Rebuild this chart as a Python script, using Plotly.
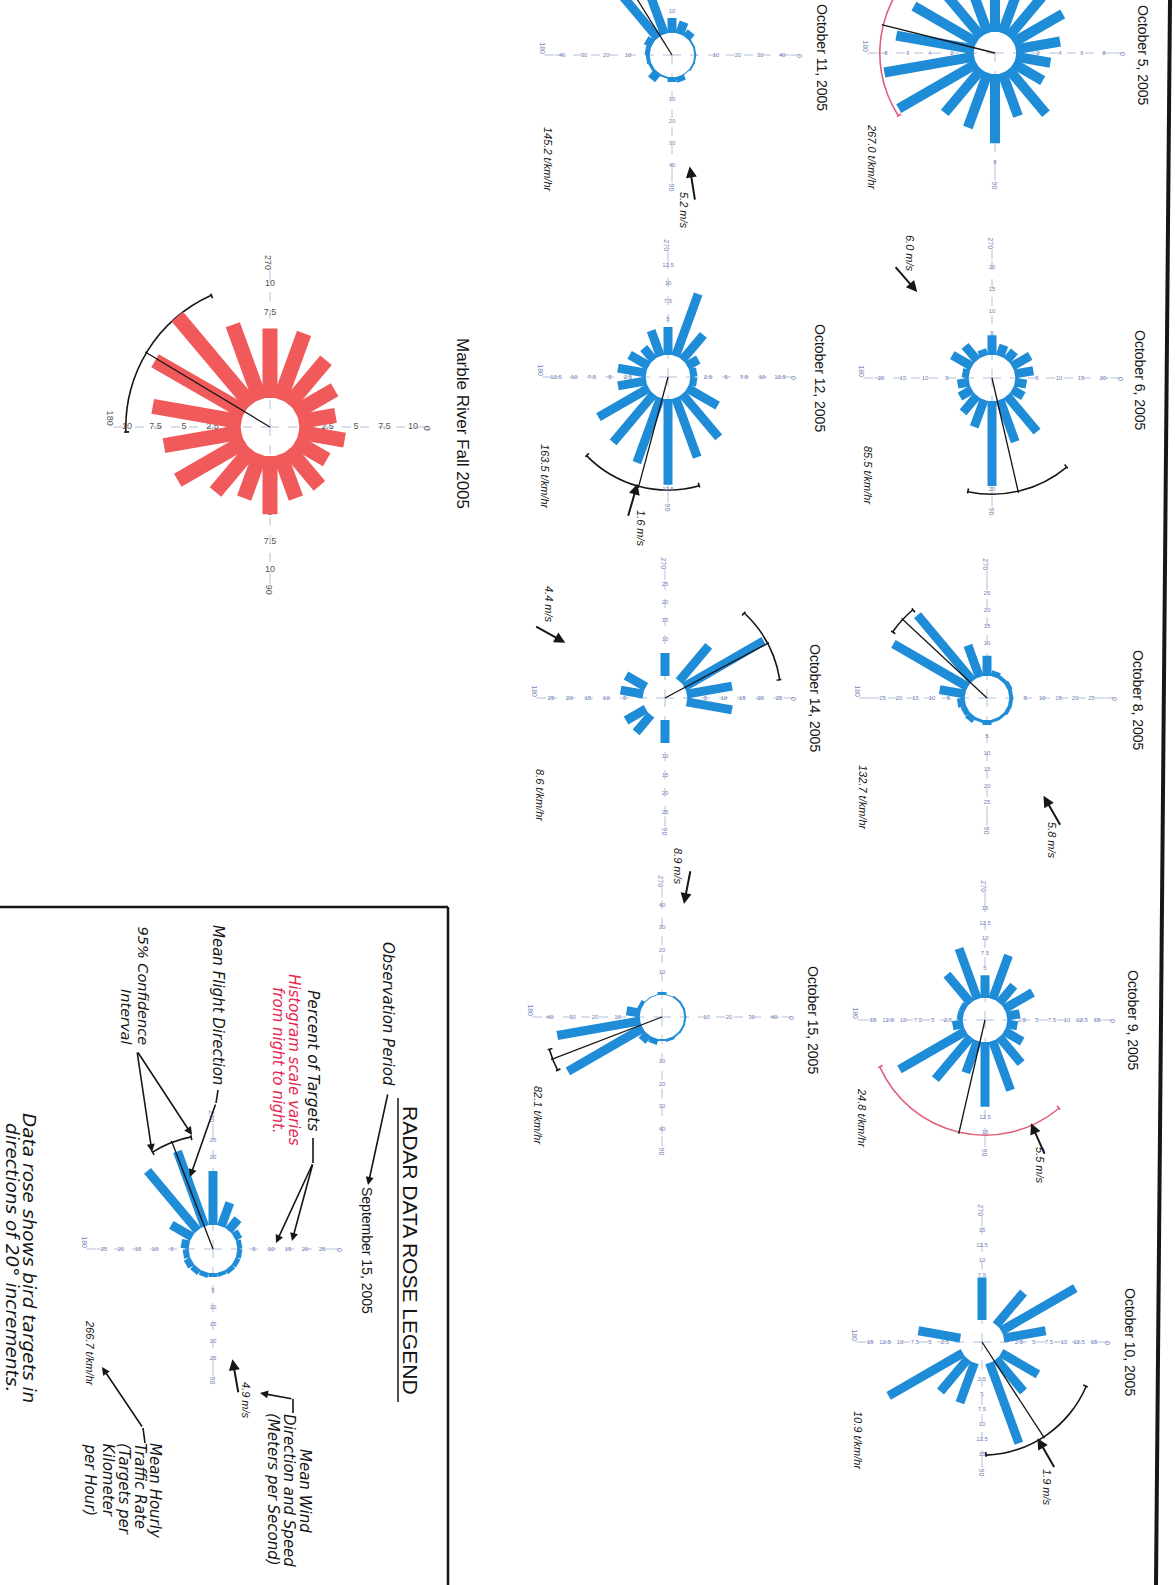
import math
import plotly.graph_objects as go

# Sheet size in pixels; the scanned sheet is cut off along its top edge,
# so the figure is drawn taller and shifted up by TOP_CUT.
W, VIEW_H, TOP_CUT = 1175, 1585, 90
H = VIEW_H + TOP_CUT

# ---------------------------------------------------------------- data
DIRECTIONS = [10, 30, 50, 70, 90, 110, 130, 150, 170, 190, 210, 230, 250, 270, 290, 310, 330, 350]

ROSE_NAMES = ["October 5, 2005", "October 6, 2005", "October 8, 2005", "October 9, 2005",
              "October 10, 2005", "October 11, 2005", "October 12, 2005", "October 14, 2005",
              "October 15, 2005", "Marble River Fall 2005", "September 15, 2005"]

# percent of targets per 20-degree direction bin
PCT_OCT05 = [3.2, 3.1, 5.3, 4.2, 6.3, 5.3, 5.2, 8.2, 8.3, 7.2, 6.6, 6.3, 6.0, 6.8, 5.6, 5.3, 5.2, 4.1]
PCT_OCT06 = [2.7, 3.0, 10.7, 10.2, 19.3, 6.6, 5.0, 3.2, 2.7, 1.6, 5.2, 4.3, 1.6, 4.5, 2.7, 2.7, 4.8, 4.3]
PCT_OCT08 = [1.2, 1.2, 0.9, 0.9, 1.5, 0.9, 2.1, 1.8, 2.4, 7.9, 26.1, 26.1, 10.3, 6.1, 1.8, 1.2, 1.5, 1.2]
PCT_OCT09 = [1.8, 3.5, 5.7, 8.8, 10.8, 5.7, 9.2, 12.8, 1.8, 1.0, 1.0, 6.2, 9.0, 3.8, 7.8, 3.8, 5.5, 2.2]
PCT_OCT10 = [0, 7.1, 7.1, 14.3, 0, 7.1, 7.1, 14.3, 0, 7.1, 0, 0, 0, 7.1, 0, 7.1, 14.3, 7.1]
PCT_OCT11 = [0.9, 0.9, 0.5, 2.7, 2.3, 0.9, 4.5, 1.4, 1.8, 2.3, 3.6, 32.0, 27.2, 6.8, 5.9, 3.6, 0.9, 0.9]
PCT_OCT12 = [1.0, 4.9, 7.9, 8.8, 11.9, 9.6, 8.8, 8.1, 4.0, 4.0, 3.1, 2.2, 3.8, 3.9, 9.2, 4.6, 1.8, 1.0]
PCT_OCT14 = [12.5, 0, 0, 0, 6.25, 0, 6.25, 6.25, 0, 6.25, 6.25, 0, 0, 6.25, 0, 12.5, 25.0, 12.5]
PCT_OCT15 = [0.9, 0.9, 0.9, 1.3, 0.9, 2.7, 4.0, 38.5, 37.5, 6.2, 1.8, 0.4, 0.4, 1.3, 0.4, 0.9, 0.9, 0.9]
PCT_SEASON = [4.1, 3.2, 4.2, 4.1, 5.1, 4.1, 4.9, 6.8, 6.9, 7.9, 9.1, 10.1, 7.0, 6.1, 6.2, 5.1, 4.0, 3.3]
PCT_SEP15 = [1.5, 1.5, 1.5, 1.2, 1.2, 1.5, 1.8, 2.1, 1.8, 2.4, 7.1, 22.9, 23.5, 15.9, 7.4, 4.4, 2.1, 1.5]

PCT_BY_ROSE = [PCT_OCT05, PCT_OCT06, PCT_OCT08, PCT_OCT09, PCT_OCT10, PCT_OCT11,
               PCT_OCT12, PCT_OCT14, PCT_OCT15, PCT_SEASON, PCT_SEP15]

MEAN_DIR = [194, 77, 223, 103, 57, 238, 105, 332, 159, 211, 249]
CI_LOW = [147, 50, 215, 50, 23, 232, 74, 313, 153, 178, 238]
CI_HIGH = [241, 102, 230, 156, 88, 244, 136, 351, 164, 246, 259]

TRAFFIC_RATE = [267.0, 85.5, 132.7, 24.8, 10.9, 145.2, 163.5, 8.6, 82.1, None, 266.7]
WIND_SPEED = [None, 6.0, 5.8, 5.5, 1.9, 5.2, 1.6, 4.4, 8.9, None, 4.9]
WIND_FROM = [None, 229, 60, 66, 60, 81, 106, 209, 281, None, 80]

AXIS_ANGLES = [0, 90, 180, 270]
AXIS_NAMES = ["0", "90", "180", "270"]
RADIAL_TICKS = [[2, 4, 6, 8], [5, 10, 15, 20], [5, 10, 15, 20, 25], [2.5, 5, 7.5, 10, 12.5, 15],
                [2.5, 5, 7.5, 10, 12.5, 15], [10, 20, 30, 40], [2.5, 5, 7.5, 10, 12.5],
                [5, 10, 15, 20, 25], [10, 20, 30, 40], [2.5, 5, 7.5, 10], [5, 10, 15, 20, 25]]

# ---------------------------------------------------------------- styling
BLUE = "#1e8cd7"
RED_BAR = "#f05a5a"
CI_RED = "#e0607a"
INK = "#161616"
TICK_BLUE = "#7484b8"
AXIS_GREY = "#b4bedb"
SANS = "Liberation Sans, Arial, sans-serif"
CAD = "DejaVu Sans, sans-serif"

# placement on the sheet (pixels): centre, outer circle, hole, px per percent
FRAMES = [
    dict(cx=995, cy=53, rc=117, rh=21, k=11.0, bw=10, color=BLUE, ci=CI_RED,
         title_at=(1143, 55), tsize=14, rate_at=(872, 157), wind_at=None),
    dict(cx=992, cy=378, rc=118, rh=23, k=4.4, bw=9, color=BLUE, ci=INK,
         title_at=(1140, 380), tsize=14, rate_at=(868, 475), wind_at=(910, 253)),
    dict(cx=987, cy=698, rc=117, rh=22, k=3.3, bw=9, color=BLUE, ci=INK,
         title_at=(1138, 700), tsize=14, rate_at=(863, 798), wind_at=(1052, 840)),
    dict(cx=985, cy=1020, rc=117, rh=22, k=6.0, bw=9, color=BLUE, ci=CI_RED,
         title_at=(1133, 1020), tsize=14, rate_at=(862, 1118), wind_at=(1040, 1165)),
    dict(cx=982, cy=1342, rc=115, rh=22, k=6.0, bw=9, color=BLUE, ci=INK,
         title_at=(1130, 1342), tsize=14, rate_at=(858, 1440), wind_at=(1047, 1487)),
    dict(cx=672, cy=55, rc=117, rh=22, k=2.2, bw=9, color=BLUE, ci=INK,
         title_at=(822, 57), tsize=14, rate_at=(548, 160), wind_at=(684, 210)),
    dict(cx=668, cy=377, rc=115, rh=22, k=7.2, bw=9, color=BLUE, ci=INK,
         title_at=(820, 378), tsize=14, rate_at=(545, 477), wind_at=(641, 528)),
    dict(cx=665, cy=698, rc=118, rh=22, k=3.68, bw=9, color=BLUE, ci=INK,
         title_at=(815, 698), tsize=14, rate_at=(540, 795), wind_at=(549, 604)),
    dict(cx=662, cy=1017, rc=119, rh=22, k=2.25, bw=9, color=BLUE, ci=INK,
         title_at=(813, 1020), tsize=14, rate_at=(538, 1115), wind_at=(678, 866)),
    dict(cx=270, cy=427, rc=146, rh=29, k=11.4, bw=15, color=RED_BAR, ci=INK,
         title_at=(463, 423), tsize=17, rate_at=None, wind_at=None),
    dict(cx=213, cy=1249, rc=116, rh=24, k=3.4, bw=9, color=BLUE, ci=INK,
         title_at=(367, 1250), tsize=14, rate_at=(90, 1353), wind_at=(246, 1400)),
]


def paper(x, y):
    return x / W, 1 - (y + TOP_CUT) / H


def fmt(v):
    return f"{v:g}"


fig = go.Figure()
annotations, shapes, polars = [], [], {}


def label(text, x, y, size, color=INK, family=SANS, italic=False, angle=90,
          xanchor="center", yanchor="middle"):
    px_, py_ = paper(x, y)
    annotations.append(dict(text=text, x=px_, y=py_, xref="paper", yref="paper",
                            showarrow=False, textangle=angle, xanchor=xanchor, yanchor=yanchor,
                            font=dict(size=size, color=color, family=family,
                                      style="italic" if italic else "normal")))


def arrow(head, tail, width=1.6, size=1.0):
    hx, hy = paper(*head)
    annotations.append(dict(text="", x=hx, y=hy, xref="paper", yref="paper",
                            ax=tail[0] - head[0], ay=tail[1] - head[1],
                            axref="pixel", ayref="pixel", showarrow=True, arrowhead=2,
                            arrowsize=size, arrowwidth=width, arrowcolor=INK, standoff=0))


def rule(p, q, width=1.6, color=INK):
    x0, y0 = paper(*p)
    x1, y1 = paper(*q)
    shapes.append(dict(type="line", xref="paper", yref="paper", x0=x0, y0=y0, x1=x1, y1=y1,
                       line=dict(color=color, width=width)))


def on_sheet(fr, angle, radius_px):
    """True when a point of a rose lies inside the visible sheet."""
    y = fr["cy"] + radius_px * math.sin(math.radians(angle))
    return y > 6


for i, (fr, pct) in enumerate(zip(FRAMES, PCT_BY_ROSE)):
    sub = "polar" if i == 0 else f"polar{i + 1}"
    k = fr["k"]
    base = fr["rh"] / k          # bars start at the edge of the white hole
    rmax = fr["rc"] / k
    marble = i == 9

    # radial scale labels along the four axes (kept beneath the bars)
    tr, tt, tx = [], [], []
    for a in AXIS_ANGLES:
        for t in RADIAL_TICKS[i]:
            if on_sheet(fr, a, fr["rh"] + t * k):
                tr.append(base + t)
                tt.append(a)
                tx.append(fmt(t))
    fig.add_trace(go.Scatterpolar(
        r=tr, theta=tt, text=tx, mode="text", subplot=sub, hoverinfo="skip", showlegend=False,
        textfont=dict(size=9 if marble else 6, color="#555555" if marble else TICK_BLUE,
                      family=SANS)))

    # histogram bars: constant-width strokes from the hole outward
    th, rr = [], []
    for d, v in zip(DIRECTIONS, pct):
        if v > 0:
            th += [d, d, None]
            rr += [base, base + v, None]
    fig.add_trace(go.Scatterpolar(r=rr, theta=th, mode="lines", subplot=sub,
                                  line=dict(color=fr["color"], width=fr["bw"]),
                                  hoverinfo="skip", showlegend=False))

    # mean flight direction
    fig.add_trace(go.Scatterpolar(r=[0, rmax], theta=[MEAN_DIR[i], MEAN_DIR[i]], mode="lines",
                                  subplot=sub, line=dict(color=INK, width=1.3),
                                  hoverinfo="skip", showlegend=False))

    # 95% confidence interval arc with end ticks
    thick = 1.6 / k
    lo, hi = CI_LOW[i], CI_HIGH[i]
    fig.add_trace(go.Barpolar(r=[thick], base=[rmax - thick - 1 / k], theta=[(lo + hi) / 2],
                              width=[hi - lo], subplot=sub, hoverinfo="skip", showlegend=False,
                              marker=dict(color=fr["ci"], line=dict(width=0))))
    fig.add_trace(go.Scatterpolar(r=[rmax - 5 / k, rmax + 2 / k, None, rmax - 5 / k, rmax + 2 / k],
                                  theta=[lo, lo, None, hi, hi], mode="lines", subplot=sub,
                                  cliponaxis=False, line=dict(color=fr["ci"], width=1.6),
                                  hoverinfo="skip", showlegend=False))

    # compass labels, leaving out any that fall beyond the sheet's top edge
    ang_vals = [a for a in AXIS_ANGLES if on_sheet(fr, a, fr["rc"] + 16)]
    ang_text = [AXIS_NAMES[AXIS_ANGLES.index(a)] for a in ang_vals]

    x0, y_top = paper(fr["cx"] - fr["rc"], fr["cy"] - fr["rc"])
    x1, y_bot = paper(fr["cx"] + fr["rc"], fr["cy"] + fr["rc"])
    polars[sub] = dict(
        domain=dict(x=[x0, x1], y=[y_bot, y_top]),
        bgcolor="rgba(0,0,0,0)",
        angularaxis=dict(rotation=0, direction="clockwise", tickvals=ang_vals,
                         ticktext=ang_text, tickangle=90, ticks="outside", ticklen=10,
                         tickwidth=1, tickcolor=AXIS_GREY,
                         showline=False, showgrid=True, gridcolor=AXIS_GREY, gridwidth=1,
                         griddash="dash", layer="below traces",
                         tickfont=dict(size=9 if marble else 7,
                                       color="#555555" if marble else TICK_BLUE, family=SANS)),
        radialaxis=dict(range=[0, rmax], tickvals=[rmax * 0.995], showticklabels=False,
                        ticks="", showline=False, showgrid=True, gridcolor="#b9b9b9",
                        gridwidth=1, griddash="dot", layer="below traces"),
    )

    # names, traffic rate and wind
    tx_, ty_ = fr["title_at"]
    label(ROSE_NAMES[i], tx_, ty_, fr["tsize"])
    if TRAFFIC_RATE[i] is not None:
        rx, ry = fr["rate_at"]
        label(f"{TRAFFIC_RATE[i]:.1f} t/km/hr", rx, ry, 11, italic=True)
    if WIND_SPEED[i] is not None:
        a = math.radians(WIND_FROM[i])
        head = (fr["cx"] + (fr["rc"] - 4) * math.cos(a), fr["cy"] + (fr["rc"] - 4) * math.sin(a))
        tail = (fr["cx"] + (fr["rc"] + 31) * math.cos(a), fr["cy"] + (fr["rc"] + 31) * math.sin(a))
        arrow(head, tail, width=2.0, size=1.1)
        wx, wy = fr["wind_at"]
        label(f"{WIND_SPEED[i]:.1f} m/s", wx, wy, 11, italic=True)

# ---------------------------------------------------------------- legend panel
label("RADAR DATA ROSE LEGEND", 411, 1250, 21)
rule((398, 1098), (398, 1402), width=1.5)

label("Observation Period", 388, 1014, 15, family=CAD, italic=True)
arrow((368, 1185), (388, 1093))

label("Percent of Targets", 313, 1060, 15.5, family=CAD, italic=True)
label("Histogram scale varies", 294, 1060, 15, color="#e8274f", family=CAD, italic=True)
label("from night to night.", 278, 1060, 15, color="#e8274f", family=CAD, italic=True)
rule((313, 1138), (313, 1163))
arrow((276, 1243), (313, 1163))
arrow((292, 1241), (313, 1163))

label("Mean Flight Direction", 218, 1005, 15, family=CAD, italic=True)
rule((218, 1090), (216, 1103))
arrow((190, 1177), (216, 1103))

label("95% Confidence", 143, 1047, 14.5, family=CAD, italic=True, yanchor="bottom")
label("Interval", 126, 1047, 14.5, family=CAD, italic=True, yanchor="bottom")
arrow((192, 1135), (137, 1051))
arrow((152, 1152), (137, 1051))

label("Mean Wind", 305, 1491, 15, family=CAD, italic=True)
label("Direction and Speed", 289, 1490, 15, family=CAD, italic=True)
label("(Meters per Second)", 273, 1489, 15, family=CAD, italic=True)
rule((293, 1413), (293, 1399))
arrow((260, 1393), (293, 1399))

for text, x in [("Mean Hourly", 155), ("Traffic Rate", 140), ("(Targets per", 124),
                ("Kilometer", 108), ("per Hour)", 90)]:
    label(text, x, 1441, 15, family=CAD, italic=True, yanchor="top")
rule((145, 1443), (143, 1428))
arrow((102, 1367), (143, 1428))

label("Data rose shows bird targets in", 30, 1258, 18.5, family=CAD, italic=True)
label("directions of 20° increments.", 13, 1257, 18.5, family=CAD, italic=True)

# legend box and sheet border
rule((0, 907), (448, 907), width=2.5)
rule((448, 907), (448, 1585), width=2.5)
rule((1170, 0), (1156, 1585), width=4)

fig.update_layout(
    width=W, height=H, margin=dict(l=0, r=0, t=0, b=0),
    paper_bgcolor="white", plot_bgcolor="white", showlegend=False,
    annotations=annotations, shapes=shapes, **polars,
)

fig.write_html(
    "out.html",
    post_script=(
        "document.body.style.margin='0';document.body.style.overflow='hidden';"
        f"document.getElementById('{{plot_id}}').style.marginTop='-{TOP_CUT}px';"
    ),
)
